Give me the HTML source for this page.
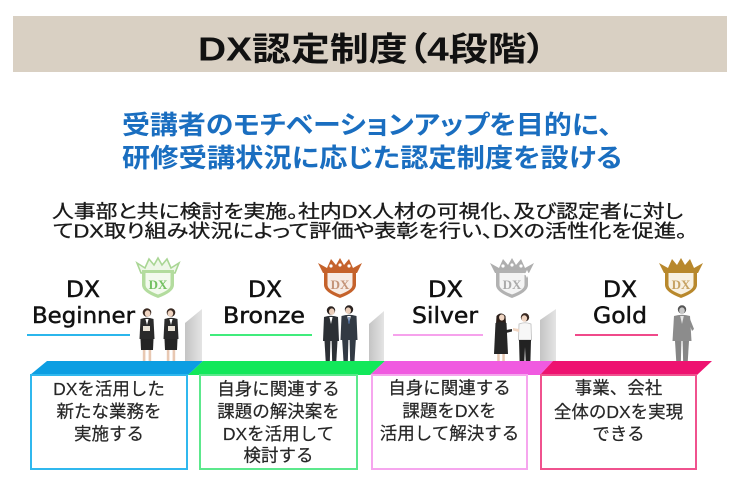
<!DOCTYPE html>
<html lang="ja">
<head>
<meta charset="utf-8">
<style>
  html,body{margin:0;padding:0;background:#fff;}
  body{width:742px;height:486px;overflow:hidden;}
  svg{display:block;}
  .jp{font-family:"Liberation Sans","Noto Sans CJK JP",sans-serif;}
  .palt{font-feature-settings:"palt";}
  .hd{font-family:"DejaVu Sans","Liberation Sans",sans-serif;}
  .bx{font-family:"Liberation Sans","Noto Sans CJK JP",sans-serif;font-size:17.5px;fill:#262626;stroke:#262626;stroke-width:0.2;}
</style>
</head>
<body>
<svg width="742" height="486" viewBox="0 0 742 486" xmlns="http://www.w3.org/2000/svg">
  <defs>
    <linearGradient id="wall" x1="0" y1="0" x2="1" y2="0">
      <stop offset="0" stop-color="#c4c4c4"/>
      <stop offset="1" stop-color="#e4e4e4"/>
    </linearGradient>
  </defs>

  <!-- Title bar -->
  <rect x="13" y="16" width="714" height="56" fill="#d9d0c3"/>
  <text class="jp palt" x="198" y="60.5" font-size="33" font-weight="700" fill="#111" textLength="348" lengthAdjust="spacingAndGlyphs">DX認定制度（4段階）</text>

  <!-- Blue subtitle -->
  <text class="jp palt" x="122" y="134" font-size="26" font-weight="700" fill="#1a6ec0" textLength="490" lengthAdjust="spacingAndGlyphs">受講者のモチベーションアップを目的に、</text>
  <text class="jp palt" x="122" y="167" font-size="26" font-weight="700" fill="#1a6ec0" textLength="500" lengthAdjust="spacingAndGlyphs">研修受講状況に応じた認定制度を設ける</text>

  <!-- Paragraph -->
  <text class="jp palt" x="52" y="218" font-size="18.5" fill="#1a1a1a" stroke="#1a1a1a" stroke-width="0.3" textLength="631" lengthAdjust="spacingAndGlyphs">人事部と共に検討を実施。社内DX人材の可視化、及び認定者に対し</text>
  <text class="jp palt" x="53" y="237.5" font-size="18.5" fill="#1a1a1a" stroke="#1a1a1a" stroke-width="0.3" textLength="634" lengthAdjust="spacingAndGlyphs">てDX取り組み状況によって評価や表彰を行い、DXの活性化を促進。</text>

  <!-- Headings -->
  <g class="hd" font-size="22.5" fill="#111" stroke="#111" stroke-width="0.5">
    <text x="66" y="297" textLength="34" lengthAdjust="spacingAndGlyphs">DX</text>
    <text x="32" y="323" textLength="103" lengthAdjust="spacingAndGlyphs">Beginner</text>
    <text x="248" y="297" textLength="34" lengthAdjust="spacingAndGlyphs">DX</text>
    <text x="223" y="323" textLength="82" lengthAdjust="spacingAndGlyphs">Bronze</text>
    <text x="428" y="297" textLength="35" lengthAdjust="spacingAndGlyphs">DX</text>
    <text x="412" y="323" textLength="66" lengthAdjust="spacingAndGlyphs">Silver</text>
    <text x="603" y="297" textLength="34" lengthAdjust="spacingAndGlyphs">DX</text>
    <text x="593" y="323" textLength="54" lengthAdjust="spacingAndGlyphs">Gold</text>
  </g>

  <!-- Heading underlines -->
  <line x1="27" y1="335" x2="130" y2="335" stroke="#2bb6ec" stroke-width="2"/>
  <line x1="210" y1="335" x2="312" y2="335" stroke="#40ec7c" stroke-width="2"/>
  <line x1="393" y1="335" x2="483" y2="335" stroke="#f6a2ec" stroke-width="2"/>
  <line x1="575" y1="335" x2="658" y2="335" stroke="#f04a8a" stroke-width="2"/>

  <!-- Walls -->
  <polygon points="185,323 202,309 202,361 185,361" fill="url(#wall)"/>
  <polygon points="369,324 384,311 384,361 369,361" fill="url(#wall)"/>
  <polygon points="540,320 556,309 556,361 540,361" fill="url(#wall)"/>

  <!-- Badges -->
  <g transform="translate(158,258)">
    <polygon points="-21,5 -13,10 -9,1 -4,7 0,0 4,7 9,1 13,10 21,5 17,15 -17,15" fill="#eef7e8" stroke="#a9d694" stroke-width="1.6"/>
    <path d="M-16,12 L16,12 L16,27 Q16,34 0,40 Q-16,34 -16,27 Z" fill="#b3dc9e"/>
    <path d="M-12.5,15 L12.5,15 L12.5,27 Q12.5,32 0,36.5 Q-12.5,32 -12.5,27 Z" fill="#f3faee"/>
    <text x="0" y="31" font-family="Liberation Serif,serif" font-size="13" font-weight="700" fill="#73c062" text-anchor="middle">DX</text>
  </g>
  <g transform="translate(340,258)">
    <polygon points="-22,5 -13,10 -9,1 -4,7 0,0 4,7 9,1 13,10 22,5 17,15 -17,15" fill="#c5622b"/>
    <circle cx="-9" cy="8" r="1.6" fill="#fff"/><circle cx="0" cy="7" r="1.6" fill="#fff"/><circle cx="9" cy="8" r="1.6" fill="#fff"/>
    <path d="M-16,12 L16,12 L16,27 Q16,34 0,40 Q-16,34 -16,27 Z" fill="#c5622b"/>
    <path d="M-12.5,15 L12.5,15 L12.5,27 Q12.5,32 0,36.5 Q-12.5,32 -12.5,27 Z" fill="#f7ece5"/>
    <text x="0" y="31" font-family="Liberation Serif,serif" font-size="13" font-weight="700" fill="#c49478" text-anchor="middle">DX</text>
  </g>
  <g transform="translate(512,258)">
    <polygon points="-22,5 -13,10 -9,1 -4,7 0,0 4,7 9,1 13,10 22,5 17,15 -17,15" fill="#aeaeae"/>
    <circle cx="-9" cy="8" r="1.6" fill="#fff"/><circle cx="0" cy="7" r="1.6" fill="#fff"/><circle cx="9" cy="8" r="1.6" fill="#fff"/>
    <path d="M-16,12 L16,12 L16,27 Q16,34 0,40 Q-16,34 -16,27 Z" fill="#b2b2b2"/>
    <path d="M-12.5,15 L12.5,15 L12.5,27 Q12.5,32 0,36.5 Q-12.5,32 -12.5,27 Z" fill="#f4f4f4"/>
    <text x="0" y="31" font-family="Liberation Serif,serif" font-size="13" font-weight="700" fill="#aaaaaa" text-anchor="middle">DX</text>
    <path d="M15,12 L16.5,15 L20,16 L16.5,17 L15,20 L13.5,17 L10,16 L13.5,15 Z" fill="#fff"/>
  </g>
  <g transform="translate(681,258)">
    <polygon points="-22,5 -13,10 -9,1 -4,7 0,0 4,7 9,1 13,10 22,5 17,15 -17,15" fill="#b8882c"/>
    <path d="M-16,12 L16,12 L16,27 Q16,34 0,40 Q-16,34 -16,27 Z" fill="#b8882c"/>
    <path d="M-12.5,15 L12.5,15 L12.5,27 Q12.5,32 0,36.5 Q-12.5,32 -12.5,27 Z" fill="#f8f1e2"/>
    <text x="0" y="31" font-family="Liberation Serif,serif" font-size="13" font-weight="700" fill="#c6a262" text-anchor="middle">DX</text>
  </g>

  <!-- People col1 -->
  <g transform="translate(147,308)">
    <circle cx="0" cy="4.5" r="4.3" fill="#3a2a22"/>
    <ellipse cx="0.6" cy="5.5" rx="2.8" ry="3.2" fill="#f0d5c2"/>
    <path d="M-6.5,11 Q0,8.5 6.5,11 L7.5,31 L-7.5,31 Z" fill="#2a2a2a"/>
    <path d="M-1.6,11 L1.6,11 L0,17 Z" fill="#fff"/>
    <rect x="-4" y="18" width="7" height="5" fill="#e9e2d6"/>
    <path d="M-6.5,31 L6.5,31 L6,42 L-6,42 Z" fill="#242424"/>
    <rect x="-4.2" y="42" width="2.6" height="15" fill="#e8c8b2"/>
    <rect x="1.6" y="42" width="2.6" height="15" fill="#e8c8b2"/>
    <rect x="-5.2" y="56.5" width="4" height="2.5" fill="#222"/>
    <rect x="1.2" y="56.5" width="4" height="2.5" fill="#222"/>
  </g>
  <g transform="translate(171,308)">
    <circle cx="0" cy="4.5" r="4.3" fill="#3a2a22"/>
    <ellipse cx="-0.6" cy="5.5" rx="2.8" ry="3.2" fill="#f0d5c2"/>
    <path d="M-6.5,11 Q0,8.5 6.5,11 L7.5,31 L-7.5,31 Z" fill="#2a2a2a"/>
    <path d="M-1.6,11 L1.6,11 L0,17 Z" fill="#fff"/>
    <rect x="-3" y="18" width="7" height="5" fill="#e9e2d6"/>
    <path d="M-6.5,31 L6.5,31 L6,42 L-6,42 Z" fill="#242424"/>
    <rect x="-4.2" y="42" width="2.6" height="15" fill="#e8c8b2"/>
    <rect x="1.6" y="42" width="2.6" height="15" fill="#e8c8b2"/>
    <rect x="-5.2" y="56.5" width="4" height="2.5" fill="#222"/>
    <rect x="1.2" y="56.5" width="4" height="2.5" fill="#222"/>
  </g>

  <!-- People col2 -->
  <g transform="translate(331,306)">
    <circle cx="0" cy="4.5" r="4.2" fill="#2a2220"/>
    <ellipse cx="0.8" cy="5.6" rx="2.8" ry="3.2" fill="#eccfbb"/>
    <path d="M-7,11 Q0,8.5 7,11 L8,35 L-8,35 Z" fill="#2c3035"/>
    <path d="M-1.6,11 L1.6,11 L0,18 Z" fill="#fff"/>
    <path d="M-6.5,35 L-0.6,35 L-1.2,57 L-5.2,57 Z" fill="#2c3035"/>
    <path d="M0.6,35 L6.5,35 L5.2,57 L1.2,57 Z" fill="#2c3035"/>
    <rect x="-6.5" y="57" width="5.5" height="2.5" fill="#1c1c1c"/>
    <rect x="1" y="57" width="5.5" height="2.5" fill="#1c1c1c"/>
  </g>
  <g transform="translate(349,305)">
    <circle cx="0" cy="4.5" r="4.2" fill="#2a2220"/>
    <ellipse cx="-0.8" cy="5.6" rx="2.8" ry="3.2" fill="#eccfbb"/>
    <path d="M-7.5,11 Q0,8.5 7.5,11 L8.5,35 L-8.5,35 Z" fill="#323a44"/>
    <path d="M-1.8,11 L1.8,11 L0,19 Z" fill="#fff"/>
    <path d="M-0.6,12 L0.6,12 L0.8,18 L0,19 L-0.8,18 Z" fill="#4a6a9a"/>
    <path d="M-6.8,35 L-0.6,35 L-1.2,58 L-5.4,58 Z" fill="#323a44"/>
    <path d="M0.6,35 L6.8,35 L5.4,58 L1.2,58 Z" fill="#323a44"/>
    <rect x="-6.6" y="58" width="5.5" height="2.5" fill="#1c1c1c"/>
    <rect x="1" y="58" width="5.5" height="2.5" fill="#1c1c1c"/>
  </g>

  <!-- People col3 -->
  <g transform="translate(501,312)">
    <path d="M-4.5,4 Q0,-1 4.5,4 L5,12 L-5,12 Z" fill="#2a1e18"/>
    <ellipse cx="0.8" cy="5.5" rx="2.7" ry="3.1" fill="#f0d5c2"/>
    <path d="M-5.5,11 Q0,9 5.5,11 L7,42 L-7,42 Z" fill="#262626"/>
    <path d="M5,18 L11,17 L11,19.5 L5,21 Z" fill="#262626"/>
    <rect x="-3.8" y="42" width="2.5" height="15" fill="#e8c8b2"/>
    <rect x="1.3" y="42" width="2.5" height="15" fill="#e8c8b2"/>
    <rect x="-5" y="56.5" width="4" height="2.5" fill="#222"/>
    <rect x="1" y="56.5" width="4" height="2.5" fill="#222"/>
  </g>
  <g transform="translate(525,313)">
    <circle cx="0" cy="4.3" r="4.2" fill="#3a2a22"/>
    <ellipse cx="-0.7" cy="5.5" rx="2.8" ry="3.2" fill="#f0d5c2"/>
    <path d="M-6,11 Q0,8.5 6,11 L6.5,27 L-6.5,27 Z" fill="#f7f7f7" stroke="#bdbdbd" stroke-width="0.8"/>
    <path d="M-6,16 L-12,15 L-12,17.5 L-6,19 Z" fill="#f0d5c2"/>
    <path d="M-6,27 L6,27 L5.2,56 L1,56 L0,34 L-1,56 L-5.2,56 Z" fill="#222"/>
    <rect x="-5.8" y="56" width="4.6" height="2.5" fill="#1c1c1c"/>
    <rect x="1" y="56" width="4.6" height="2.5" fill="#1c1c1c"/>
  </g>

  <!-- People col4 -->
  <g transform="translate(682,305)">
    <circle cx="0" cy="4.5" r="4.2" fill="#555"/>
    <ellipse cx="0" cy="5.6" rx="2.8" ry="3.2" fill="#c8c8c8"/>
    <path d="M-8,11 Q0,8.5 8,11 L9.5,36 L-9.5,36 Z" fill="#8c8c8c"/>
    <path d="M-1.8,11 L1.8,11 L0,19 Z" fill="#e6e6e6"/>
    <path d="M8,14 L12,24 L10,26 L7,18 Z" fill="#8c8c8c"/>
    <path d="M-7,36 L-0.6,36 L-1.2,59 L-5.6,59 Z" fill="#868686"/>
    <path d="M0.6,36 L7,36 L5.6,59 L1.2,59 Z" fill="#868686"/>
    <rect x="-6.8" y="59" width="5.8" height="2.5" fill="#3a3a3a"/>
    <rect x="1" y="59" width="5.8" height="2.5" fill="#3a3a3a"/>
  </g>

  <!-- Platform -->
  <polygon points="47,361 203,361 188,375 30,375" fill="#0c9ee2"/>
  <polygon points="203,361 385,361 370,375 188,375" fill="#12e85a"/>
  <polygon points="385,361 553,361 540,375 370,375" fill="#f05ae0"/>
  <polygon points="553,361 712,361 697,375 540,375" fill="#ee1270"/>

  <!-- Boxes -->
  <rect x="31" y="375" width="156" height="94" fill="#fff" stroke="#30b8ee" stroke-width="2"/>
  <rect x="200" y="375" width="157" height="94" fill="#fff" stroke="#5ce88c" stroke-width="2"/>
  <rect x="372" y="375" width="155" height="94" fill="#fff" stroke="#f6a6ee" stroke-width="2"/>
  <rect x="541" y="375" width="155" height="94" fill="#fff" stroke="#f0528e" stroke-width="2"/>

  <!-- Box texts -->
  <g class="bx" text-anchor="middle">
    <text x="109" y="395">DXを活用した</text>
    <text x="109" y="417.5">新たな業務を</text>
    <text x="109" y="440">実施する</text>

    <text x="278.5" y="395">自身に関連する</text>
    <text x="278.5" y="417.5">課題の解決案を</text>
    <text x="278.5" y="440">DXを活用して</text>
    <text x="278.5" y="461.5">検討する</text>

    <text x="449.5" y="394">自身に関連する</text>
    <text x="449.5" y="417">課題をDXを</text>
    <text x="449.5" y="439.5">活用して解決する</text>

    <text x="618.5" y="394">事業、会社</text>
    <text x="618.5" y="418">全体のDXを実現</text>
    <text x="618.5" y="440">できる</text>
  </g>
</svg>
</body>
</html>
